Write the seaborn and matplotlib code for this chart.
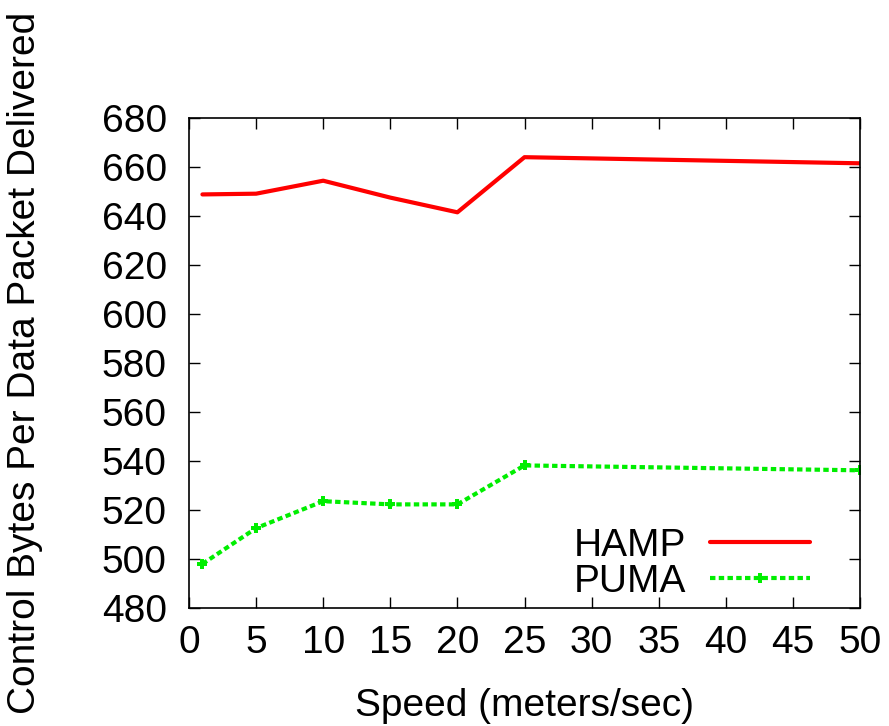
import matplotlib
matplotlib.use("Agg")
import matplotlib.pyplot as plt
import seaborn as sns
import pandas as pd

speeds = [1, 5, 10, 15, 20, 25, 50]
hamp = [648.8, 649.1, 654.4, 647.5, 641.5, 664.0, 661.5]
puma = [498.0, 512.6, 523.6, 522.3, 522.3, 538.2, 536.2]
xticks = [0, 5, 10, 15, 20, 25, 30, 35, 40, 45, 50]
yticks = [480, 500, 520, 540, 560, 580, 600, 620, 640, 660, 680]

sns.set_theme(style="ticks")
plt.rcParams['font.family'] = ['Liberation Sans', 'DejaVu Sans']
plt.rcParams['text.color'] = 'black'
plt.rcParams['axes.labelcolor'] = 'black'

df = pd.DataFrame({
    "speed": speeds * 2,
    "value": hamp + puma,
    "series": ["HAMP"] * len(speeds) + ["PUMA"] * len(speeds),
})

fig = plt.figure(figsize=(8.89, 7.26), dpi=100)
ax = fig.add_axes([0.2126, 0.1625, 0.7548, 0.6750])

sns.lineplot(data=df[df.series == "HAMP"], x="speed", y="value", ax=ax,
             color="#ff0000", linewidth=3, label="HAMP")
sns.lineplot(data=df[df.series == "PUMA"], x="speed", y="value", ax=ax,
             color="#00ee00", linewidth=3, marker="P", markersize=7,
             markeredgewidth=0, label="PUMA", dashes=False)
ax.lines[-1].set_dashes([1.3, 0.8])

ax.set_xlim(0, 50)
ax.set_ylim(480, 680)
ax.set_xticks(xticks)
ax.set_yticks(yticks)
ax.tick_params(direction="in", length=8, width=1, top=True, right=True,
               labelsize=28, colors="black")
ax.tick_params(axis="y", pad=16)
ax.tick_params(axis="x", pad=12)
for s in ax.spines.values():
    s.set_visible(True)
    s.set_linewidth(1.2)
    s.set_color("black")

ax.set_xlabel("Speed (meters/sec)", fontsize=28, color="black")
ax.xaxis.set_label_coords(0.5, -0.163)
ax.set_ylabel("Control Bytes Per Data Packet Delivered", fontsize=28, color="black")
ax.yaxis.set_label_coords(-0.2176, 0.5)

leg = ax.legend(loc="lower right", bbox_to_anchor=(0.978, -0.055), frameon=False,
                markerfirst=False, fontsize=28, handlelength=2.57,
                labelspacing=0.0, handletextpad=0.62)
for t in leg.get_texts():
    t.set_color("black")

fig.savefig("out.png", dpi=100)
